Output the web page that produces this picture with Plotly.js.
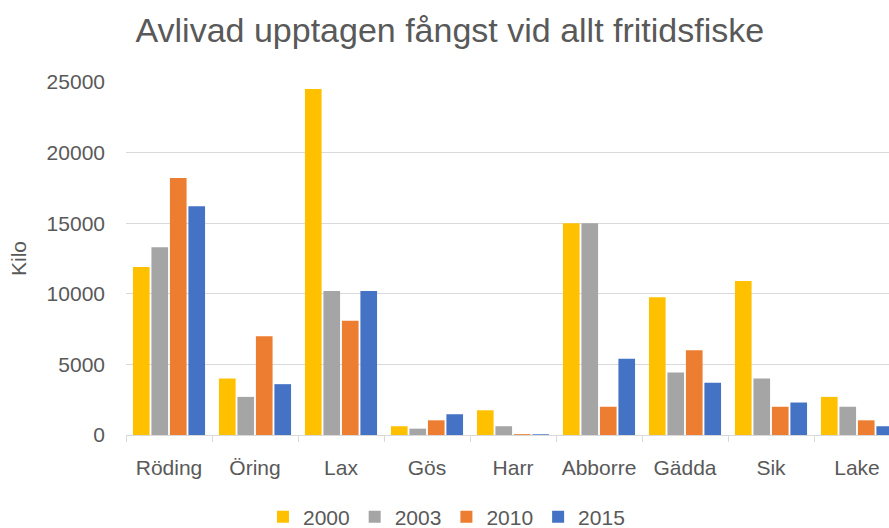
<!DOCTYPE html>
<html>
<head>
<meta charset="utf-8">
<script src="https://cdn.plot.ly/plotly-3.0.1.min.js"></script>
<style>html,body{margin:0;padding:0;background:#fff;}#chart{width:889px;height:528px;}</style>
</head>
<body>
<div id="chart"></div>
<script>
const categories = ["Röding", "Öring", "Lax", "Gös", "Harr", "Abborre", "Gädda", "Sik", "Lake"];
const years = ["2000", "2003", "2010", "2015"];
const v2000 = [11900, 4000, 24500, 620, 1750, 15000, 9750, 10900, 2700];
const v2003 = [13300, 2700, 10200, 450, 620, 15000, 4420, 4000, 2000];
const v2010 = [18200, 7000, 8100, 1040, 60, 2000, 6000, 2000, 1040];
const v2015 = [16200, 3600, 10200, 1470, 50, 5400, 3700, 2300, 620];
const yTicks = [0, 5000, 10000, 15000, 20000, 25000];
const colors = ["#FFC000", "#A5A5A5", "#ED7D31", "#4472C4"];
const series = [v2000, v2003, v2010, v2015];
const FONT = "Liberation Sans, Arial, sans-serif";
const TXT = "#595959";

const traces = series.map((vals, i) => ({
  type: "bar",
  name: years[i],
  x: categories,
  y: vals,
  marker: {color: colors[i]},
  hoverinfo: "x+y+name"
}));

const plotW = 889 - 126;
const pitch = 86;

const layout = {
  width: 889,
  height: 528,
  paper_bgcolor: "#ffffff",
  plot_bgcolor: "#ffffff",
  margin: {l: 126, r: 0, t: 82, b: 93},
  font: {family: FONT, color: TXT},
  title: {
    text: "Avlivad upptagen fångst vid allt fritidsfiske",
    font: {family: FONT, size: 34, color: TXT},
    x: 0.506, xanchor: "center",
    y: 1 - 30 / 528, yanchor: "middle", yref: "container"
  },
  barmode: "group",
  bargap: 0.14,
  bargroupgap: 0.1,
  xaxis: {
    type: "category",
    range: [-0.5, -0.5 + plotW / pitch],
    showgrid: false,
    showline: true,
    linecolor: "#D9D9D9",
    linewidth: 1,
    ticks: "outside",
    tickson: "boundaries",
    ticklen: 6,
    tickcolor: "#D9D9D9",
    tickfont: {family: FONT, size: 21, color: TXT},
    ticklabelstandoff: 14,
    fixedrange: true
  },
  yaxis: {
    range: [0, 25000],
    tickvals: yTicks,
    ticktext: yTicks.map(String),
    showgrid: true,
    gridcolor: "#D9D9D9",
    gridwidth: 1,
    zeroline: false,
    showline: false,
    ticks: "",
    tickfont: {family: FONT, size: 21, color: TXT},
    ticklabelstandoff: 20,
    title: {text: "Kilo", font: {family: FONT, size: 21, color: TXT}, standoff: 14},
    fixedrange: true
  },
  showlegend: true,
  legend: {
    orientation: "h",
    x: 0.42, xanchor: "center",
    y: 11 / 528, yanchor: "middle", yref: "container",
    font: {family: FONT, size: 21, color: TXT},
    itemclick: false,
    itemdoubleclick: false
  }
};

Plotly.newPlot("chart", traces, layout, {displayModeBar: false, staticPlot: true});
</script>
</body>
</html>
